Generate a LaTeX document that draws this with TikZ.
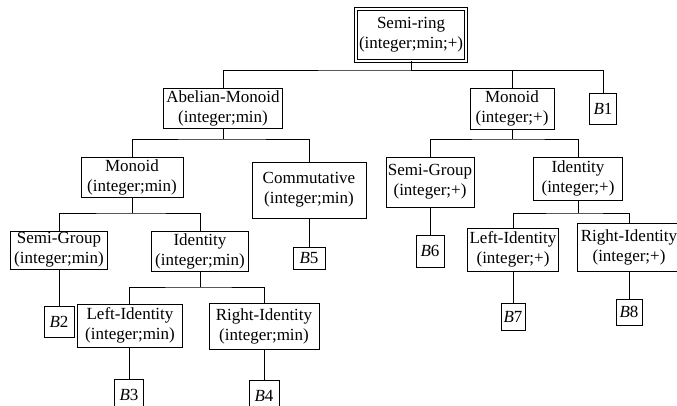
\documentclass[tikz,border=0pt]{standalone}
\usepackage{fontspec}
\setmainfont{Liberation Serif}
\newcommand{\setkind}[1]{(integer;#1)}

\begin{document}
\begin{tikzpicture}[x=1pt, y=-1pt, line width=0.9pt,
  box/.style={draw, align=center, inner sep=0pt, outer sep=0pt,
    font=\fontsize{17}{20}\selectfont},
  leaf/.style={box, font=\fontsize{17}{20}\selectfont},
  ring/.style={box, double, double distance=2pt}]
\useasboundingbox (0,0) rectangle (677,405);
\clip (0,0) rectangle (677,405);

% top level
\node[ring, minimum width=110, minimum height=52] (semiring) at (411,35) {Semi-ring\\\setkind{min;+}};
\node[box, minimum width=119, minimum height=40] (abelian) at (223,108) {Abelian-Monoid\\\setkind{min}};
\node[box, minimum width=84, minimum height=41] (monoidp) at (512,108.5) {Monoid\\\setkind{+}};
\node[leaf, minimum width=27, minimum height=31] (b1) at (603,108.5) {\textit{B}1};

% (integer;min) side
\node[box, minimum width=102, minimum height=40] (monoidm) at (132,177) {Monoid\\\setkind{min}};
\node[box, minimum width=114, minimum height=56] (commut) at (309,190) {Commutative\\\setkind{min}};
\node[box, minimum width=97, minimum height=38] (semigrm) at (59,250) {Semi-Group\\\setkind{min}};
\node[box, minimum width=97, minimum height=40] (identm) at (200,251) {Identity\\\setkind{min}};
\node[leaf, minimum width=32, minimum height=22] (b5) at (309,258) {\textit{B}5};
\node[leaf, minimum width=30, minimum height=31] (b2) at (59,321.5) {\textit{B}2};
\node[box, minimum width=105, minimum height=43] (leftm) at (130,325.5) {Left-Identity\\\setkind{min}};
\node[box, minimum width=110, minimum height=46] (rightm) at (264,326) {Right-Identity\\\setkind{min}};
\node[leaf, minimum width=29, minimum height=31] (b3) at (129,394.5) {\textit{B}3};
\node[leaf, minimum width=30, minimum height=31] (b4) at (264,396) {\textit{B}4};

% (integer;+) side
\node[box, minimum width=88, minimum height=50] (semigrp) at (430,182) {Semi-Group\\\setkind{+}};
\node[box, minimum width=89, minimum height=43] (identp) at (578,178.5) {Identity\\\setkind{+}};
\node[leaf, minimum width=28, minimum height=32] (b6) at (430,251) {\textit{B}6};
\node[box, minimum width=91, minimum height=43] (leftp) at (513,249.5) {Left-Identity\\\setkind{+}};
\node[box, minimum width=104, minimum height=48] (rightp) at (629,247) {Right-Identity\\\setkind{+}};
\node[leaf, minimum width=26, minimum height=26] (b8) at (629,312) {\textit{B}8};
\node[leaf, minimum width=24, minimum height=27] (b7) at (513,316.5) {\textit{B}7};

% bus joints
\coordinate (jring) at (411,70);
\coordinate (jabelian) at (223,139);
\coordinate (jmonoidp) at (512,139);
\coordinate (jmonoidm) at (132,213);
\coordinate (jidentm) at (200,287);
\coordinate (jidentp) at (578,213);

\draw (semiring) -- (jring);
\draw (abelian.north) |- (jring) -| (monoidp.north);
\draw (jring) -| (b1.north);

\draw (abelian) -- (jabelian);
\draw (monoidm.north) |- (jabelian) -| (commut.north);
\draw (monoidm) -- (jmonoidm);
\draw (semigrm.north) |- (jmonoidm) -| (identm.north);
\draw (identm) -- (jidentm);
\draw (leftm.north -| b3) |- (jidentm) -| (rightm.north);

\draw (monoidp) -- (jmonoidp);
\draw (semigrp.north) |- (jmonoidp) -| (identp.north);
\draw (identp) -- (jidentp);
\draw (leftp.north) |- (jidentp) -| (rightp.north);

% leaves
\draw (commut) -- (b5);
\draw (semigrm) -- (b2);
\draw (leftm.south -| b3) -- (b3);
\draw (rightm) -- (b4);
\draw (semigrp) -- (b6);
\draw (leftp) -- (b7);
\draw (rightp) -- (b8);
\end{tikzpicture}
\end{document}
